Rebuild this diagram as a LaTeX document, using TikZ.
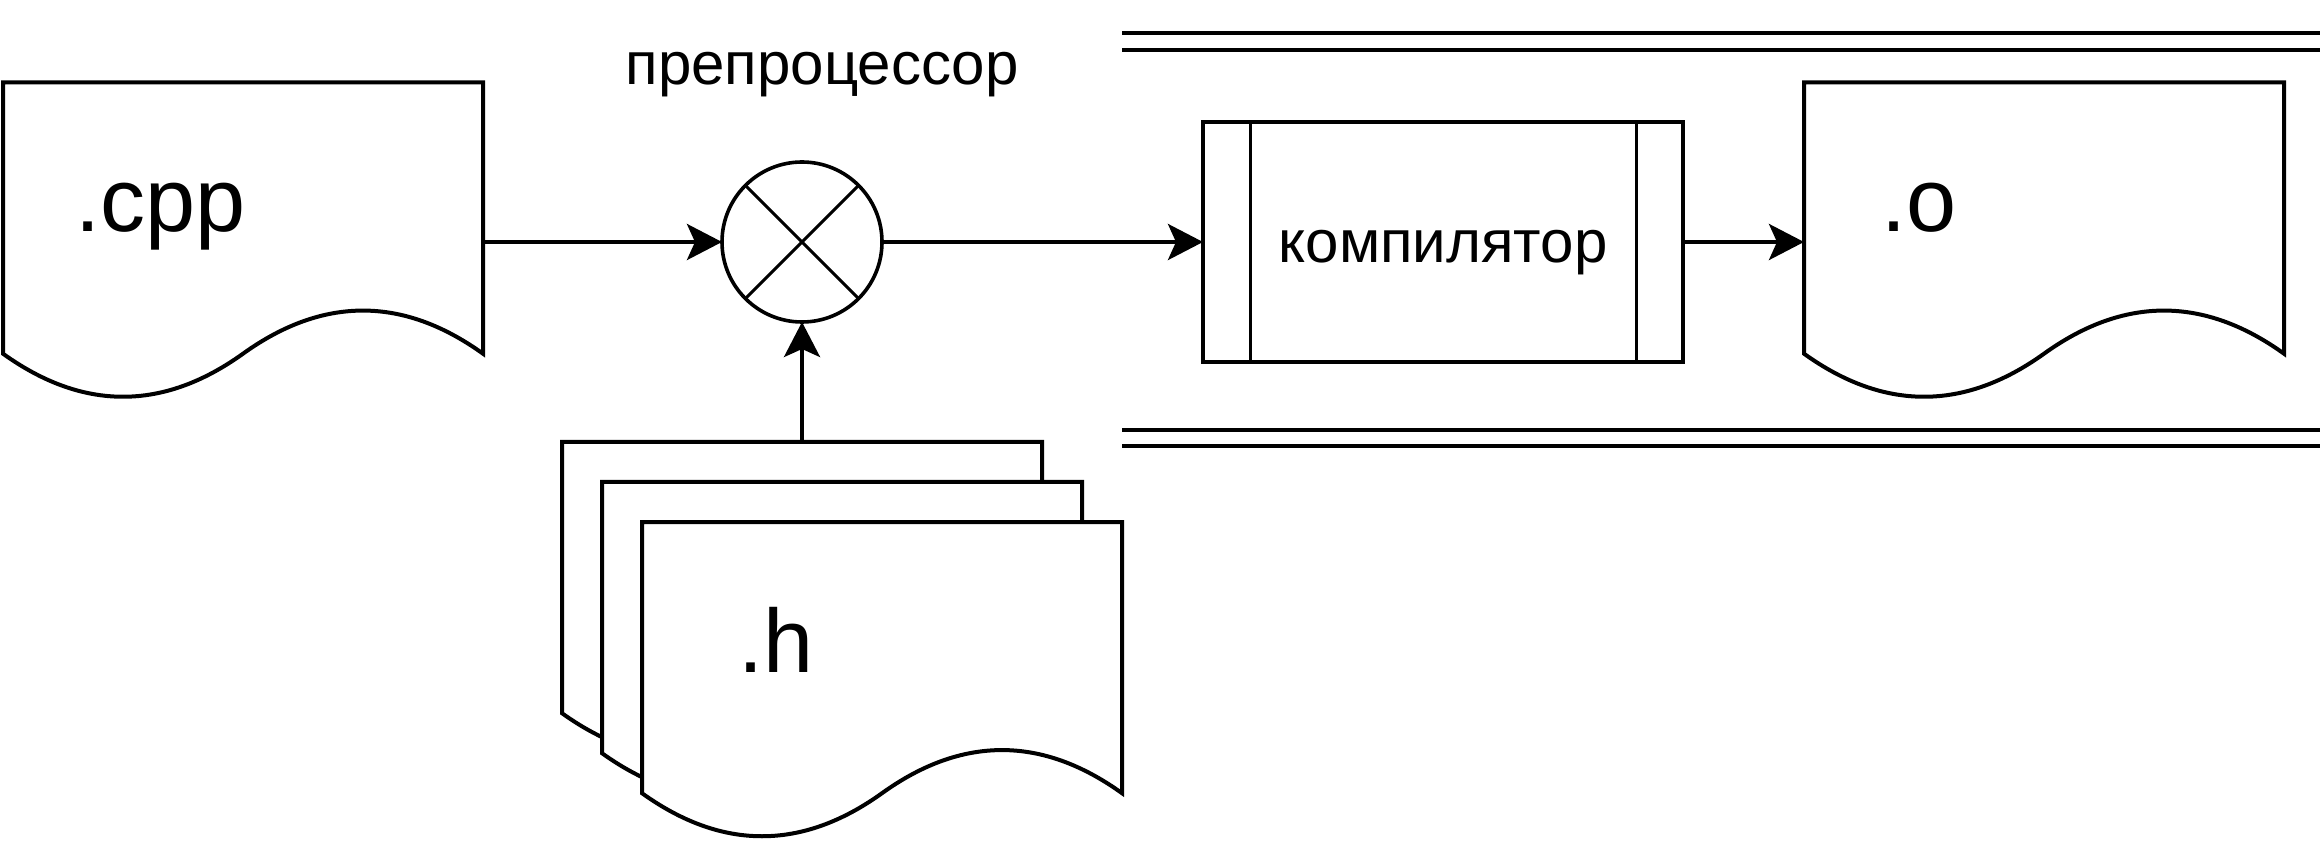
\documentclass[tikz,border=0pt]{standalone}
\usepackage{fontspec}
\setmainfont{Liberation Sans}
\usetikzlibrary{arrows.meta,calc}

\newcommand\docpath[1]{%
  \begin{scope}[shift={(#1.north west)}]
    \draw[docline] (0,0) -- (480,0) -- (480,271.2)
      .. controls (400,213.7) and (320,213.7) .. (240,271.2)
      .. controls (160,328.6) and (80,328.6) .. (0,271.2) -- cycle;
  \end{scope}}

\begin{document}
\begin{tikzpicture}[x=0.5pt,y=-0.5pt,
  docframe/.style={minimum width=240pt,minimum height=159.5pt,inner sep=0pt,outer sep=0pt},
  docline/.style={line width=2pt,fill=white},
  doctext/.style={font=\fontsize{45}{54}\selectfont,anchor=base west,inner sep=0pt},
  lbl/.style={font=\fontsize{30}{36}\selectfont},
  thinline/.style={line width=1.5pt},
  conn/.style={line width=2pt,-{Stealth[length=17.5pt,width=18pt,inset=4pt]}}]
  \useasboundingbox (0,0) rectangle (2324,844);
  \node[docframe] (cpp) at (243,242) {};
  \node[docframe] (obj) at (2044,242) {};
  \node[docframe] (hback) at (802,601.5) {};
  \node[docframe] (hmid) at (842,641.5) {};
  \node[docframe] (hfront) at (882,681.5) {};
  \foreach \d in {cpp,obj,hback,hmid,hfront} {\docpath{\d}}
  \node[doctext] (cpptext) at (75,232) {.cpp};
  \node[doctext] (objtext) at (1881,232) {.o};
  \node[doctext] (htext) at (738,672) {.h};
  \node[circle,draw,line width=1.8pt,minimum size=80pt,inner sep=0pt,outer sep=0pt] (sum) at (802,242) {};
  \draw[thinline] (sum.45) -- (sum.225) (sum.135) -- (sum.-45);
  \node[lbl,anchor=base] (pptext) at (822,85) {препроцессор};
  \node[draw,line width=2pt,lbl,minimum width=240pt,minimum height=120pt,
    text height=24pt,text depth=3pt,outer sep=0pt] (comp) at (1443,242) {компилятор};
  \draw[thinline] ($(comp.north west)+(47,0)$) -- ($(comp.south west)+(47,0)$)
    ($(comp.north east)+(-47,0)$) -- ($(comp.south east)+(-47,0)$);
  \foreach \y in {33,50,430,446} \draw[line width=2pt] (1122,\y) -- (2320,\y);
  \draw[conn] (cpp.east) -- (sum.west);
  \draw[conn] (sum.east) -- (comp.west);
  \draw[conn] (comp.east) -- (obj.west);
  \draw[conn] (hback.north) -- (sum.south);
\end{tikzpicture}
\end{document}
